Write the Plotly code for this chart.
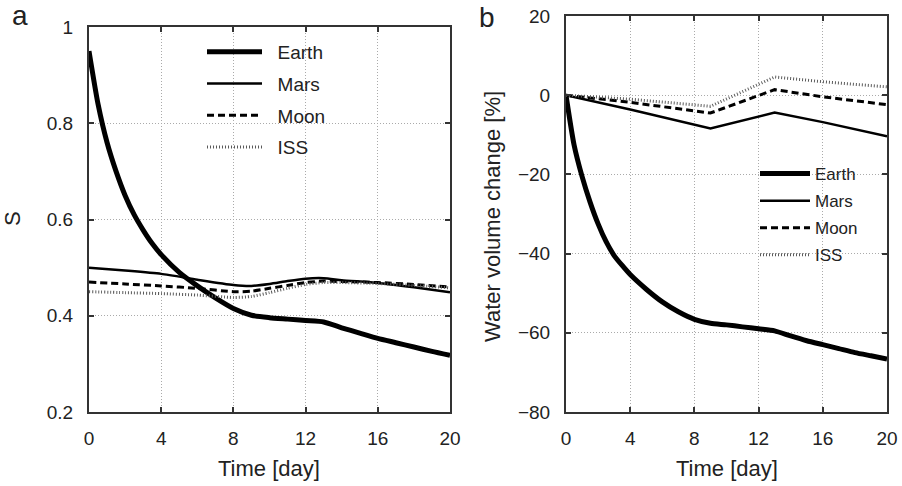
import plotly.graph_objects as go

# ---- data: panel a (S vs time) ----
days_earth = [0, 0.5, 1, 1.5, 2, 2.5, 3, 3.5, 4, 5, 6, 7, 8, 9, 10, 11, 12, 13, 14, 15, 16, 17, 18, 19, 20]
s_earth = [0.95, 0.84, 0.76, 0.70, 0.65, 0.61, 0.578, 0.55, 0.527, 0.49, 0.462, 0.437, 0.415, 0.401, 0.396,
           0.393, 0.39, 0.387, 0.375, 0.364, 0.353, 0.344, 0.335, 0.326, 0.318]
days_other = [0, 2, 4, 6, 8, 9, 10, 11, 12, 13, 14, 16, 18, 20]
s_mars = [0.50, 0.494, 0.487, 0.475, 0.464, 0.462, 0.466, 0.472, 0.477, 0.478, 0.474, 0.468, 0.459, 0.449]
s_moon = [0.47, 0.466, 0.462, 0.457, 0.450, 0.451, 0.457, 0.463, 0.469, 0.472, 0.471, 0.469, 0.465, 0.460]
s_iss = [0.45, 0.448, 0.446, 0.443, 0.438, 0.440, 0.448, 0.457, 0.465, 0.469, 0.469, 0.467, 0.463, 0.458]

# ---- data: panel b (water volume change %) ----
wv_earth = [0, -12.5, -20.5, -27, -32.5, -37, -40.5, -43, -45.3, -49, -52.2, -54.7, -56.6, -57.6, -58,
            -58.5, -59, -59.5, -60.8, -62, -63, -64, -65, -65.8, -66.6]
days_b = [0, 4, 9, 13, 16, 20]
wv_mars = [0, -3.6, -8.4, -4.4, -6.8, -10.4]
wv_moon = [0, -1.8, -4.5, 1.4, -0.4, -2.4]
wv_iss = [0, -1.0, -2.8, 4.6, 3.4, 2.1]

x_ticks = [0, 4, 8, 12, 16, 20]
series_names = ["Earth", "Mars", "Moon", "ISS"]

FONT = "Liberation Sans, Arial, sans-serif"
TXT = "#222"
NB = "\u00a0"
styles = {
    "Earth": dict(color="#000", width=5),
    "Mars": dict(color="#000", width=2.5),
    "Moon": dict(color="#000", width=3, dash="7px,4px"),
    "ISS": dict(color="#5a5a5a", width=3, dash="1px,2px"),
}

fig = go.Figure()
a_data = {"Earth": (days_earth, s_earth), "Mars": (days_other, s_mars),
          "Moon": (days_other, s_moon), "ISS": (days_other, s_iss)}
b_data = {"Earth": (days_earth, wv_earth), "Mars": (days_b, wv_mars),
          "Moon": (days_b, wv_moon), "ISS": (days_b, wv_iss)}

for n in series_names:
    x, y = a_data[n]
    fig.add_trace(go.Scatter(x=x, y=y, mode="lines", name=NB + NB + n,
                             line=dict(shape="spline", smoothing=0.6, **styles[n]),
                             xaxis="x", yaxis="y", legend="legend", legendgroup="a" + n))
for n in series_names:
    x, y = b_data[n]
    shp = dict(shape="spline", smoothing=0.6) if n == "Earth" else dict(shape="linear")
    fig.add_trace(go.Scatter(x=x, y=y, mode="lines", name=n, line=dict(**shp, **styles[n]),
                             xaxis="x2", yaxis="y2", legend="legend2", legendgroup="b" + n))

W, H = 902, 486
axis_common = dict(showgrid=True, gridcolor="#aaa", griddash="1px,2px", gridwidth=1,
                   showline=True, linecolor="#333", linewidth=2, mirror="ticks",
                   ticks="inside", ticklen=5, tickwidth=1.5, tickcolor="#333",
                   zeroline=False, automargin=False,
                   tickfont=dict(size=19, color=TXT, family=FONT))

def ann(text, x, y, size, angle=0):
    return dict(text=text, x=x / W, y=1 - y / H, xref="paper", yref="paper", showarrow=False,
                xanchor="center", yanchor="middle", textangle=angle,
                font=dict(size=size, color=TXT, family=FONT))

fig.update_layout(
    width=W, height=H, margin=dict(l=0, r=0, t=0, b=0, pad=0, autoexpand=False),
    paper_bgcolor="white", plot_bgcolor="white",
    font=dict(family=FONT, color=TXT),
    xaxis=dict(domain=[89 / W, 450 / W], range=[0, 20], tickvals=x_ticks, anchor="y",
               ticklabelstandoff=8, **axis_common),
    yaxis=dict(domain=[1 - 412 / H, 1 - 27 / H], range=[0.2, 1], tickvals=[0.2, 0.4, 0.6, 0.8, 1],
               ticktext=["0.2", "0.4", "0.6", "0.8", "1"], anchor="x",
               ticklabelstandoff=10, **axis_common),
    xaxis2=dict(domain=[566 / W, 887 / W], range=[0, 20], tickvals=x_ticks, anchor="y2",
                ticklabelstandoff=8, **axis_common),
    yaxis2=dict(domain=[1 - 412 / H, 1 - 16 / H], range=[-80, 20], tickvals=[-80, -60, -40, -20, 0, 20],
                anchor="x2", ticklabelstandoff=10, **axis_common),
    legend=dict(x=202 / W, y=1 - 33 / H, xanchor="left", yanchor="top", bgcolor="rgba(0,0,0,0)",
                font=dict(size=19, color=TXT, family=FONT), itemwidth=55, tracegroupgap=4),
    legend2=dict(x=755 / W, y=1 - 156 / H, xanchor="left", yanchor="top", bgcolor="rgba(0,0,0,0)",
                 font=dict(size=17, color=TXT, family=FONT), itemwidth=50, tracegroupgap=2),
    annotations=[
        ann("a", 20, 15, 28),
        ann("b", 487, 18, 28),
        ann("Time [day]", 269, 468, 22),
        ann("Time [day]", 727, 468, 22),
        ann("S", 12, 219, 22, -90),
        ann("Water volume change [%]", 492, 216, 22, -90),
    ],
)

fig.write_html("out.html", config={"displayModeBar": False},
               post_script="document.body.style.margin='0';document.body.style.overflow='hidden';")
